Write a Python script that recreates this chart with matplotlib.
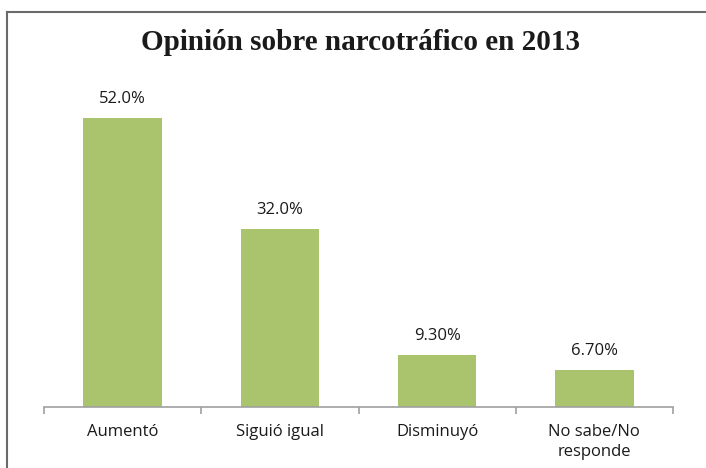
import matplotlib.pyplot as plt
import numpy as np
from matplotlib.lines import Line2D

categories = ['Aumentó', 'Siguió igual', 'Disminuyó', 'No sabe/No\nresponde']
values = [52.0, 32.0, 9.3, 6.7]
value_labels = ['52.0%', '32.0%', '9.30%', '6.70%']
title = 'Opinión sobre narcotráfico en 2013'

bar_color = '#A9C46C'
axis_color = '#A0A0A0'

fig = plt.figure(figsize=(7.06, 4.68), dpi=100)
ax = fig.add_axes([44 / 706, 61 / 468, 629 / 706, 333 / 468])

x = np.arange(len(categories))
ax.bar(x, values, width=0.5, color=bar_color)

for xi, v, lab in zip(x, values, value_labels):
    ax.text(xi, v + 2.0, lab, ha='center', va='bottom',
            fontsize=12, family='Open Sans', color='#1a1a1a')

ax.set_xlim(-0.5, len(categories) - 0.5)
ax.set_ylim(0, 60)

for s in ['top', 'right', 'left']:
    ax.spines[s].set_visible(False)
ax.spines['bottom'].set_color(axis_color)
ax.spines['bottom'].set_linewidth(1.2)

ax.set_yticks([])
ax.set_xticks(np.arange(-0.5, len(categories), 1.0))
ax.set_xticklabels([])
ax.tick_params(axis='x', which='major', length=5, width=1.2, color=axis_color)
ax.set_xticks(x, minor=True)
ax.set_xticklabels(categories, minor=True, fontsize=12, family='Open Sans',
                   color='#1a1a1a', linespacing=1.4)
ax.tick_params(axis='x', which='minor', length=0, pad=12)

fig.text(0.51, 1 - 42 / 468, title, ha='center', va='center',
         fontsize=21, fontweight='bold', family='Liberation Serif', color='#1a1a1a')

# outer chart border
fig.add_artist(Line2D([6.5 / 706, 6.5 / 706], [0, 1 - 12 / 468],
                      transform=fig.transFigure, color='#6a6a6a', lw=1.5))
fig.add_artist(Line2D([6.5 / 706, 1], [1 - 12 / 468, 1 - 12 / 468],
                      transform=fig.transFigure, color='#6a6a6a', lw=1.5))

fig.savefig('out.png', dpi=100)
